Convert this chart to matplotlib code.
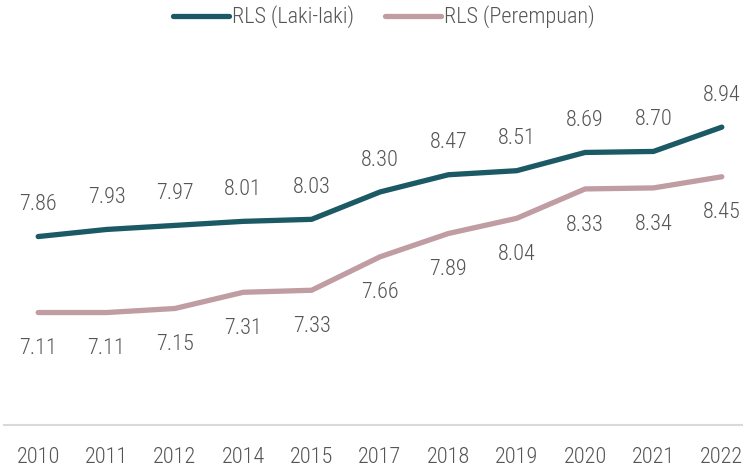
import matplotlib
matplotlib.use("Agg")
import matplotlib.pyplot as plt
from matplotlib import font_manager

years = ["2010", "2011", "2012", "2014", "2015", "2017", "2018", "2019", "2020", "2021", "2022"]
laki = [7.86, 7.93, 7.97, 8.01, 8.03, 8.30, 8.47, 8.51, 8.69, 8.70, 8.94]
perempuan = [7.11, 7.11, 7.15, 7.31, 7.33, 7.66, 7.89, 8.04, 8.33, 8.34, 8.45]
series_names = ["RLS (Laki-laki)", "RLS (Perempuan)"]

names = {f.name for f in font_manager.fontManager.ttflist}
fam = "Roboto"
fs = 14
for cand in ["Roboto Condensed", "Liberation Sans Narrow", "Open Sans Condensed", "Arial Narrow"]:
    if cand in names:
        fam = cand
        fs = 16
        break
plt.rcParams["font.family"] = [fam, "DejaVu Sans"]
plt.rcParams["font.weight"] = "light"

c1 = "#1b5a65"
c2 = "#bf9da2"
tc = "#555555"

W, H = 743, 473
fig = plt.figure(figsize=(W / 100, H / 100), dpi=100)
ax_bottom = (H - 425) / H
ax_top = (H - 40) / H
ax = fig.add_axes([4 / W, ax_bottom, 1 - 4 / W, ax_top - ax_bottom])

x = list(range(len(years)))
l1, = ax.plot(x, laki, color=c1, lw=3.8, solid_capstyle="round", solid_joinstyle="round", label=series_names[0])
l2, = ax.plot(x, perempuan, color=c2, lw=3.8, solid_capstyle="round", solid_joinstyle="round", label=series_names[1])

for xi, v in zip(x, laki):
    ax.annotate(f"{v:.2f}", (xi, v), xytext=(0, 23), textcoords="offset points",
                ha="center", va="center", fontsize=fs, color=tc)
for xi, v in zip(x, perempuan):
    ax.annotate(f"{v:.2f}", (xi, v), xytext=(0, -26), textcoords="offset points",
                ha="center", va="center", fontsize=fs, color=tc)

ax.set_xlim(-0.5, 10.31)
ax.set_ylim(6, 9.8)
ax.set_xticks(x)
ax.set_xticklabels(years, fontsize=fs, color=tc)
ax.set_yticks([])
for s in ["top", "right", "left"]:
    ax.spines[s].set_visible(False)
ax.spines["bottom"].set_color("#d9d9d9")
ax.spines["bottom"].set_linewidth(1.5)
ax.tick_params(axis="x", length=0, pad=16)

fig.legend(handles=[l1, l2], loc="center", bbox_to_anchor=(384 / W, 1 - 17 / H), ncol=2,
           frameon=False, fontsize=fs, handlelength=2.5, handletextpad=0.15, columnspacing=1.4,
           labelcolor=tc)

fig.savefig("out.png", dpi=100)
